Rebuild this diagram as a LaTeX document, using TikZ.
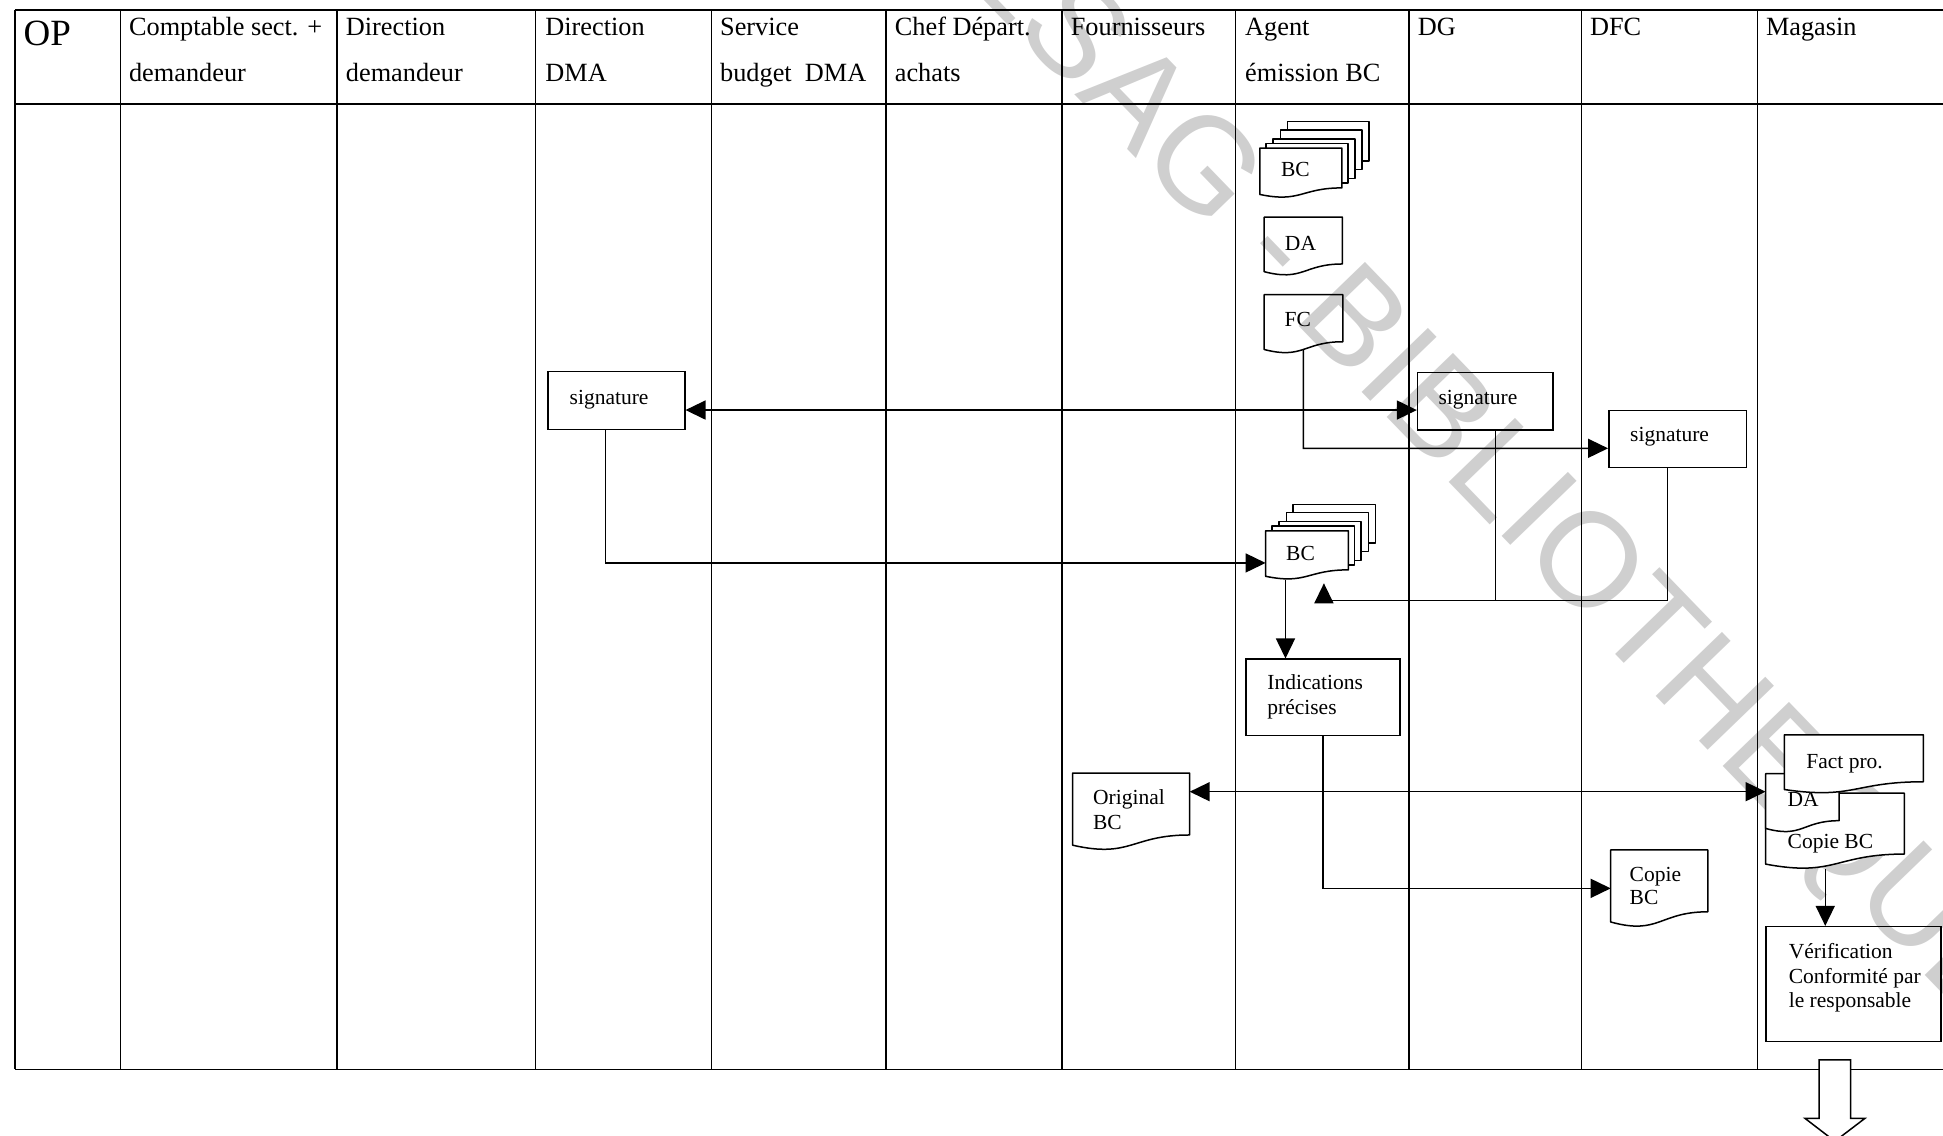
\documentclass[tikz,border=0pt]{standalone}
\usepackage{fontspec}
\setmainfont{Liberation Serif}
\newfontfamily\wmfont{Liberation Sans}
\usetikzlibrary{arrows.meta,calc,fit}
\tikzset{
  lane/.style={line width=1.3pt},
  rectbox/.style={draw,line width=1.5pt,inner sep=0pt},
  docarea/.style={inner sep=0pt},
  docline/.style={draw,line width=1.5pt,line join=round},
  link/.style={line width=1.5pt},
  conn/.style={link,-{Triangle[length=20pt,width=19pt]}},
  dconn/.style={link,{Triangle[length=20pt,width=19pt]}-{Triangle[length=20pt,width=19pt]}},
  hdr/.style={anchor=base west,inner sep=0pt,font=\fontsize{26.3pt}{30pt}\selectfont},
  txt/.style={inner sep=0pt,text height=21pt,text depth=4.7pt,font=\fontsize{21.5pt}{25pt}\selectfont},
  txtl/.style={txt,anchor=west},
}
\newcommand\docout[2][]{%
  \path[docline,#1] let \p1=(#2.north west), \p2=(#2.south east),
    \n1={\x2-\x1}, \n2={\y1-\y2} in
    (\x1,\y1) -- (\x2,\y1) -- (\x2,{\y1-0.802*\n2})
    .. controls ({\x1+0.5*\n1},{\y1-0.802*\n2}) and ({\x1+0.5*\n1},{\y1-1.1075*\n2})
    .. (\x1,{\y1-0.934*\n2}) -- cycle;}
\newcommand\backpage[6]{%
  \path[docline,fill=white] ({#1+#5},{#2+#6}) rectangle ({#1+#3+#5},{#2+#6+0.802*#4});}
\begin{document}
\begin{tikzpicture}[x=1.2392pt,y=-1.2392pt]
\useasboundingbox (0,0) rectangle (1568,916);
% watermark
\node[rotate=-46,inner sep=0pt,text=black!19,font=\wmfont\fontsize{134pt}{134pt}\selectfont] (wm) at (1175,355) {CESAG - BIBLIOTHEQUE};
% lanes
\foreach \lx in {12,97,272,432,574,715,857,997,1137,1276,1418}
  \draw[lane] (\lx,8) -- (\lx,863);
\draw[lane] (12,8) -- (1580,8);
\draw[lane] (12,84) -- (1580,84);
\draw[lane] (12,863) -- (1580,863);
% headers
\node[hdr,font=\fontsize{37pt}{40pt}\selectfont] (hop) at (19,37) {OP};
\node[hdr] (h1a) at (104,29) {Comptable sect. +};
\node[hdr] (h1b) at (104,66) {demandeur};
\node[hdr] (h2a) at (279,29) {Direction};
\node[hdr] (h2b) at (279,66) {demandeur};
\node[hdr] (h3a) at (440,29) {Direction};
\node[hdr] (h3b) at (440,66) {DMA};
\node[hdr] (h4a) at (581,29) {Service};
\node[hdr] (h4b) at (581,66) {budget~~DMA};
\node[hdr] (h5a) at (722,29) {Chef Départ.};
\node[hdr] (h5b) at (722,66) {achats};
\node[hdr] (h6a) at (864,29) {Fournisseurs};
\node[hdr] (h7a) at (1004.7,29) {Agent};
\node[hdr] (h7b) at (1004.7,66) {émission BC};
\node[hdr] (h8a) at (1144,29) {DG};
\node[hdr] (h9a) at (1283,29) {DFC};
\node[hdr] (h10a) at (1425,29) {Magasin};
% Agent documents
\node[docarea,fit={(1016.8,119.7) (1082.8,159.4)}] (bc1) {};
\backpage{1016.8}{119.7}{66}{39.7}{22}{-21.5}
\backpage{1016.8}{119.7}{66}{39.7}{16.5}{-14.8}
\backpage{1016.8}{119.7}{66}{39.7}{10.5}{-7.5}
\backpage{1016.8}{119.7}{66}{39.7}{5}{-4}
\docout[fill=white]{bc1}
\node[txt] (bc1t) at (1045.4,135.6) {BC};
\node[docarea,fit={(1020.3,175.4) (1083.2,222.2)}] (da1) {};
\docout{da1}
\node[txt] (da1t) at (1049.5,195.9) {DA};
\node[docarea,fit={(1020.3,238) (1083.5,285)}] (fc) {};
\docout{fc}
\node[txt] (fct) at (1047.3,256.9) {FC};
\node[docarea,fit={(1021.5,428.5) (1088,467.5)}] (bc2) {};
\backpage{1021.5}{428.5}{66.5}{39}{22}{-21.5}
\backpage{1021.5}{428.5}{66.5}{39}{16.5}{-14.8}
\backpage{1021.5}{428.5}{66.5}{39}{10.5}{-7.5}
\backpage{1021.5}{428.5}{66.5}{39}{5}{-4}
\docout[fill=white]{bc2}
\node[txt] (bc2t) at (1049.5,445.5) {BC};
% signature boxes
\node[rectbox,fit={(442.3,300) (552.6,346.5)}] (sigdma) {};
\node[txtl] (sigdmat) at (459.6,320) {signature};
\node[rectbox,fit={(1144,300.7) (1253.2,347)}] (sigdg) {};
\node[txtl] (sigdgt) at (1160.7,319.6) {signature};
\node[rectbox,fit={(1298.3,331.4) (1409.5,377.4)}] (sigdfc) {};
\node[txtl] (sigdfct) at (1315.4,349.5) {signature};
% Indications
\node[rectbox,fit={(1005.6,532) (1129.6,593.7)}] (ind) {};
\node[txtl] (ind1) at (1022.6,550) {Indications};
\node[txtl] (ind2) at (1022.6,570.3) {précises};
% Original BC
\node[docarea,fit={(865.7,624) (959.9,686)}] (orig) {};
\docout{orig}
\node[txtl] (orig1) at (882,643) {Original};
\node[txtl] (orig2) at (882,663) {BC};
% Copie BC (DFC)
\node[docarea,fit={(1300,686) (1378,748)}] (copdfc) {};
\docout{copdfc}
\node[txtl] (cop1) at (1315,704.8) {Copie};
\node[txtl] (cop2) at (1315,723.6) {BC};
% Magasin documents
\node[docarea,fit={(1425,640.2) (1536.6,701.2)}] (mcop) {};
\docout[fill=white]{mcop}
\node[txtl] (mcopt) at (1442.5,677.9) {Copie BC};
\node[docarea,fit={(1425,624.5) (1484,671.5)}] (mda) {};
\docout[fill=white]{mda}
\node[txtl] (mdat) at (1442.5,644.2) {DA};
\node[docarea,fit={(1440.1,593.1) (1551.9,640.1)}] (fact) {};
\docout[fill=white]{fact}
\node[txtl] (factt) at (1457.6,613.3) {Fact pro.};
% Verification
\node[rectbox,fit={(1425,747.8) (1566.5,840.6)}] (ver) {};
\node[txtl] (ver1) at (1443.4,766.6) {Vérification};
\node[txtl] (ver2) at (1443.4,786.8) {Conformité par};
\node[txtl] (ver3) at (1443.4,806.4) {le responsable};
% connectors
\coordinate (yA) at (0,330.9);
\coordinate (yB) at (0,361.8);
\coordinate (yC) at (0,454.3);
\coordinate (yD) at (0,484.6);
\coordinate (yE) at (0,716.9);
\coordinate (yF) at (0,638.9);
\coordinate (upend) at (1068.4,470.7);
\draw[dconn] (sigdma.east |- yA) -- (sigdg.west |- yA);
\draw[conn] ($(fc.south)!0.06!(fc.north)$) -- (fc.south |- yB) -- (sigdfc.west |- yB);
\coordinate (dmaout) at ($(sigdma.south west)!0.42!(sigdma.south east)$);
\draw[conn] (dmaout) -- (dmaout |- yC) -- (bc2.west |- yC);
\coordinate (dgout) at ($(sigdg.south west)!0.573!(sigdg.south east)$);
\coordinate (dfcout) at ($(sigdfc.south west)!0.427!(sigdfc.south east)$);
\draw[link] (dgout) -- (dgout |- yD);
\draw[conn] (dfcout) -- (dfcout |- yD) -- (upend |- yD) -- (upend);
\coordinate (bc2out) at ($(bc2.south west)!0.24!(bc2.south east)$);
\draw[conn] (bc2out) -- (bc2out |- ind.north);
\draw[conn] (ind.south) -- (ind.south |- yE) -- (copdfc.west |- yE);
\draw[dconn] (orig.east |- yF) -- (mda.west |- yF);
\coordinate (mcopout) at ($(mcop.south west)!0.43!(mcop.south east)$);
\draw[conn] (mcopout) -- (mcopout |- ver.north);
% block arrow leaving the page
\draw[link,fill=white,line join=miter] (1468,855.4) -- (1468,902.5) -- (1456.6,902.5) -- (1480.7,921) -- (1505,902.5) -- (1493.4,902.5) -- (1493.4,855.4) -- cycle;
\end{tikzpicture}
\end{document}
